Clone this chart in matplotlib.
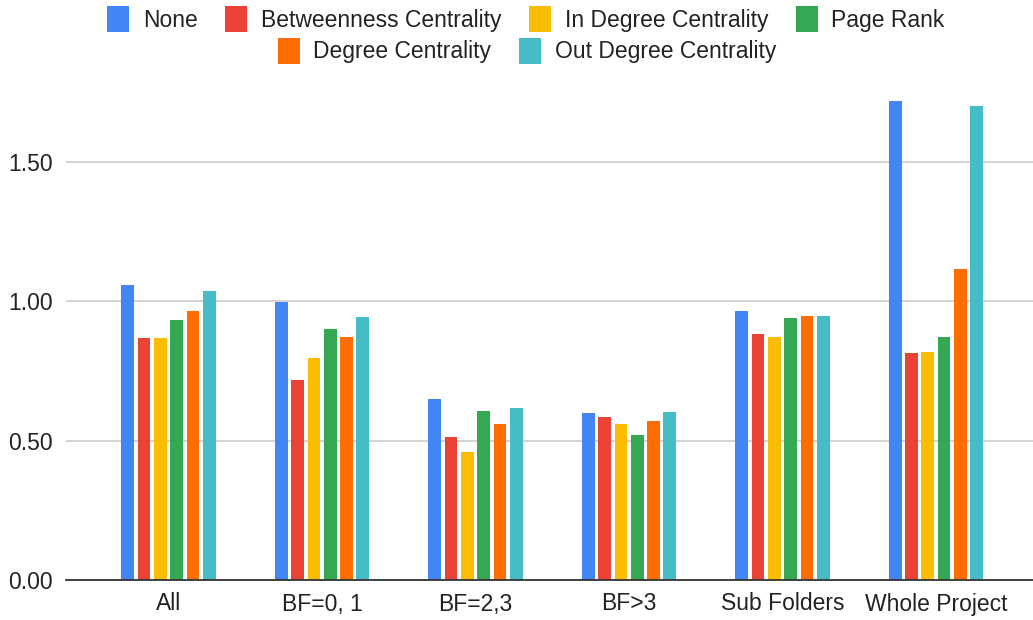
import numpy as np
import matplotlib
matplotlib.use("Agg")
import matplotlib.pyplot as plt

categories = ["All", "BF=0, 1", "BF=2,3", "BF>3", "Sub Folders", "Whole Project"]
none_vals = [1.057, 0.997, 0.651, 0.598, 0.965, 1.719]
betweenness = [0.867, 0.717, 0.512, 0.585, 0.882, 0.814]
in_degree = [0.867, 0.795, 0.460, 0.559, 0.873, 0.819]
page_rank = [0.933, 0.900, 0.605, 0.519, 0.939, 0.873]
degree = [0.965, 0.873, 0.560, 0.572, 0.946, 1.116]
out_degree = [1.037, 0.944, 0.617, 0.604, 0.946, 1.700]

series = [
    ("None", none_vals, "#4285F4"),
    ("Betweenness Centrality", betweenness, "#EA4335"),
    ("In Degree Centrality", in_degree, "#FBBC04"),
    ("Page Rank", page_rank, "#34A853"),
    ("Degree Centrality", degree, "#FF6D01"),
    ("Out Degree Centrality", out_degree, "#46BDC6"),
]


def main():
    plt.rcParams["font.family"] = ["Liberation Sans", "DejaVu Sans"]
    fig = plt.figure(figsize=(10.33, 6.2), dpi=100)
    ax = fig.add_axes([66 / 1033, 40 / 620, 967 / 1033, 490 / 620])

    x = np.arange(len(categories))
    step = 0.106
    width = 0.083
    handles = []
    for i, (name, vals, color) in enumerate(series):
        offset = (i - 2.5) * step
        b = ax.bar(x + offset, vals, width, color=color, label=name, zorder=3)
        handles.append(b)

    ax.set_xlim(-0.668, 5.632)
    ax.set_ylim(0, 1.758)
    ax.set_yticks([0, 0.5, 1.0, 1.5])
    ax.set_yticklabels([f"{v:.2f}" for v in [0, 0.5, 1.0, 1.5]])
    ax.set_xticks(x)
    ax.set_xticklabels(categories)
    ax.tick_params(axis="both", length=0, labelsize=16.5, labelcolor="#222222")
    ax.tick_params(axis="y", pad=9.5)
    ax.tick_params(axis="x", pad=9)
    ax.grid(axis="y", color="#cccccc", linewidth=1.2, zorder=0)
    for s in ["top", "right", "left"]:
        ax.spines[s].set_visible(False)
    ax.spines["bottom"].set_color("#333333")
    ax.spines["bottom"].set_linewidth(1.3)
    ax.spines["bottom"].set_zorder(4)

    kw = dict(frameon=False, fontsize=16.5, handlelength=0.96, handleheight=1.37,
              handletextpad=0.6, columnspacing=1.2, labelcolor="#222222",
              loc="center", borderpad=0)
    fig.legend(handles[:4], [s[0] for s in series[:4]], ncol=4,
               bbox_to_anchor=(0.509, 0.969), **kw)
    fig.legend(handles[4:], [s[0] for s in series[4:]], ncol=2,
               bbox_to_anchor=(0.51, 0.918), **kw)

    fig.savefig("out.png", dpi=100)


if __name__ == "__main__":
    main()
